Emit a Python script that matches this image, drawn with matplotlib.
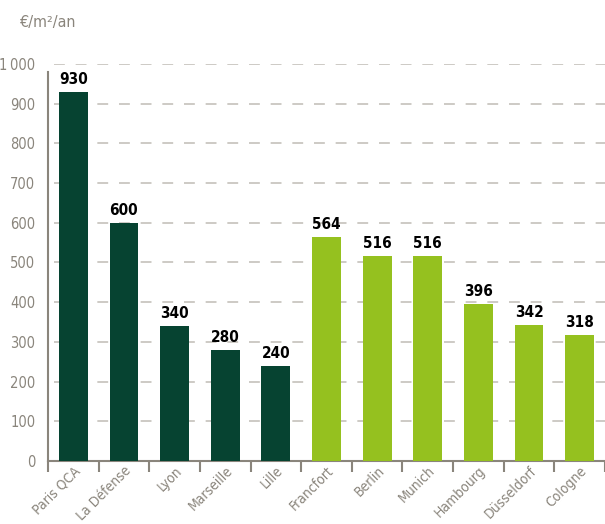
import matplotlib
matplotlib.use("Agg")
import matplotlib.pyplot as plt
import numpy as np

# Données : loyers prime bureaux (€/m²/an)
villes = ["Paris QCA", "La Défense", "Lyon", "Marseille", "Lille",
          "Francfort", "Berlin", "Munich", "Hambourg", "Düsseldorf", "Cologne"]
loyers = [930, 600, 340, 280, 240, 564, 516, 516, 396, 342, 318]
pays = ["FR", "FR", "FR", "FR", "FR", "DE", "DE", "DE", "DE", "DE", "DE"]
graduations = [0, 100, 200, 300, 400, 500, 600, 700, 800, 900, 1000]
etiquettes_y = ["0", "100", "200", "300", "400", "500", "600", "700", "800", "900", "1\u202f000"]

couleurs_pays = {"FR": "#064331", "DE": "#95c11f"}
gris = "#8a857c"

plt.rcParams['font.family'] = ['DejaVu Sans']
plt.rcParams['font.stretch'] = 'condensed'

fig = plt.figure(figsize=(6.05, 5.24), dpi=100)
ax = fig.add_axes([0.0793, 0.1202, 0.9207, 0.7578])

x = np.arange(len(villes))
couleurs = [couleurs_pays[p] for p in pays]
barres = ax.bar(x, loyers, width=0.57, color=couleurs, zorder=3)

# Étiquettes de valeur
for xi, v in zip(x, loyers):
    ax.text(xi, v + 12, f"{v}", ha='center', va='bottom', fontsize=11,
            fontweight='bold', color='black')

ax.set_xlim(-0.5, 10.35)
ax.set_ylim(0, 1000)

# Grille horizontale en tirets
ax.set_yticks(graduations)
ax.set_yticklabels(etiquettes_y, fontsize=10.5, color=gris)
for t in graduations[1:]:
    ax.axhline(t, xmin=0.01, color='#c9c6c0', lw=1.3, ls=(0, (6, 6)), zorder=1)
ax.tick_params(axis='y', length=0, pad=9)

# Axe x : graduations entre les catégories
ax.set_xticks(x)
ax.set_xticklabels(villes, rotation=45, ha='right', va='top',
                   rotation_mode='anchor', fontsize=10, color=gris)
ax.tick_params(axis='x', which='major', length=0, pad=2)
ax.set_xticks(np.arange(-0.5, 10.6, 1), minor=True)
ax.tick_params(axis='x', which='minor', length=8, width=1.5, color=gris)

for s in ['top', 'right']:
    ax.spines[s].set_visible(False)
ax.spines['left'].set_color(gris)
ax.spines['left'].set_linewidth(1.5)
ax.spines['left'].set_bounds(0, 980)
ax.spines['bottom'].set_color(gris)
ax.spines['bottom'].set_linewidth(1.5)

fig.text(0.033, 0.957, "€/m²/an", fontsize=11.5, color=gris, ha='left', va='center')

fig.savefig("out.png", dpi=100)
